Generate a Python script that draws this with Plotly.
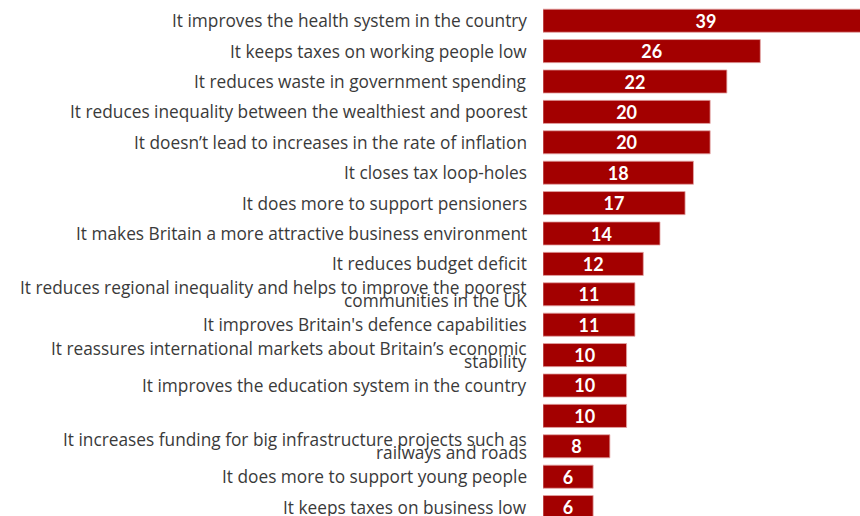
import plotly.graph_objects as go

# Survey responses: share choosing each reason (%)
reasons = [
    "It improves the health system in the country",
    "It keeps taxes on working people low",
    "It reduces waste in government spending",
    "It reduces inequality between the wealthiest and poorest",
    "It doesn\u2019t lead to increases in the rate of inflation",
    "It closes tax loop-holes",
    "It does more to support pensioners",
    "It makes Britain a more attractive business environment",
    "It reduces budget deficit",
    "It reduces regional inequality and helps to improve the poorest<br>communities in the UK",
    "It improves Britain's defence capabilities",
    "It reassures international markets about Britain\u2019s economic<br>stability",
    "It improves the education system in the country",
    "",
    "It increases funding for big infrastructure projects such as<br>railways and roads",
    "It does more to support young people",
    "It keeps taxes on business low",
]
shares = [39, 26, 22, 20, 20, 18, 17, 14, 12, 11, 11, 10, 10, 10, 8, 6, 6]

BAR_RED = "#a30000"
LABEL_GREY = "#3a3a3a"
LABEL_FONT = "Open Sans"
VALUE_FONT = "Lato"

rows = list(range(len(reasons)))

fig = go.Figure(
    go.Bar(
        x=shares,
        y=rows,
        orientation="h",
        width=0.76,
        marker=dict(color=BAR_RED, line=dict(color="#e3a6a6", width=0.8)),
        text=[str(v) for v in shares],
        textposition="inside",
        insidetextanchor="middle",
        textangle=0,
        constraintext="none",
        textfont=dict(family=VALUE_FONT, size=18, color="white", weight="bold"),
        hoverinfo="skip",
    )
)

# Category labels, right-aligned against the bars; wrapped labels use
# tightly stacked lines.
line_gap = 13
annotations = []
for i, label in enumerate(reasons):
    if not label:
        continue
    lines = label.split("<br>")
    n = len(lines)
    for k, line in enumerate(lines):
        offset = ((n - 1) / 2 - k) * line_gap
        annotations.append(
            dict(
                x=0,
                xref="paper",
                y=i,
                yref="y",
                text=line,
                showarrow=False,
                xanchor="right",
                yanchor="middle",
                xshift=-14,
                yshift=offset,
                font=dict(family=LABEL_FONT, size=17.3, color=LABEL_GREY),
            )
        )

fig.update_layout(
    width=860,
    height=516,
    margin=dict(l=543, r=0, t=0, b=0),
    paper_bgcolor="white",
    plot_bgcolor="white",
    showlegend=False,
    annotations=annotations,
    xaxis=dict(
        range=[0, 37.93],
        visible=False,
        fixedrange=True,
    ),
    yaxis=dict(
        range=[16.293, -0.681],
        visible=False,
        fixedrange=True,
    ),
)

fig.write_html("out.html")
